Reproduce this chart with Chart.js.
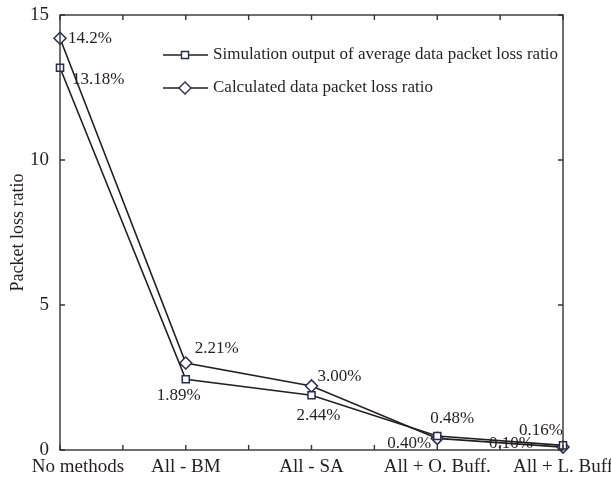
<!DOCTYPE html>
<html>
<head>
<meta charset="utf-8">
<script src="https://cdn.jsdelivr.net/npm/chart.js@4.4.1/dist/chart.umd.min.js"></script>
<style>
  html, body { margin: 0; padding: 0; background: #fff; }
  canvas { display: block; }
</style>
</head>
<body>
<canvas id="chart" width="611" height="477"></canvas>
<script>
// data
const categories = ["No methods", "All - BM", "All - SA", "All + O. Buff.", "All + L. Buff"];
const simulated = [13.18, 2.44, 1.89, 0.48, 0.16];
const calculated = [14.2, 3.00, 2.21, 0.40, 0.10];
const simulatedLabels = ["13.18%", "1.89%", "2.44%", "0.48%", "0.16%"];
const calculatedLabels = ["14.2%", "2.21%", "3.00%", "0.40%", "0.10%"];
const yTicks = [0, 5, 10, 15];
const legendNames = ["Simulation output of average data packet loss ratio", "Calculated data packet loss ratio"];

// label placement (align, dx, dy) relative to each point
const simLabelPos = [["left", 12, 12], ["center", -7, 16], ["center", 7, 20], ["center", 15, -18], ["right", 0, -15]];
const calcLabelPos = [["left", 8, 0], ["left", 9, -14], ["left", 6, -9], ["right", -6, 5], ["right", -30, -4]];
const xLabelShift = [18, 0, 0, 0, 0];

const INK = "#231f20";
const MARK = "#2b2a4a";
const SERIF = "'Liberation Serif', 'DejaVu Serif', serif";

const decor = {
  id: "decor",
  beforeDatasetsDraw(chart) {
    const ctx = chart.ctx;
    const xs = chart.scales.x, ys = chart.scales.y;
    ctx.save();
    // data labels (under the lines, as in the figure)
    ctx.fillStyle = INK;
    ctx.font = "17px " + SERIF;
    ctx.textBaseline = "middle";
    const put = (vals, texts, pos) => {
      vals.forEach((v, i) => {
        ctx.textAlign = pos[i][0];
        ctx.fillText(texts[i], xs.getPixelForValue(i) + pos[i][1], ys.getPixelForValue(v) + pos[i][2]);
      });
    };
    put(simulated, simulatedLabels, simLabelPos);
    put(calculated, calculatedLabels, calcLabelPos);
    ctx.restore();
  },
  afterDraw(chart) {
    const ctx = chart.ctx;
    const a = chart.chartArea;
    const xs = chart.scales.x, ys = chart.scales.y;
    ctx.save();

    // legend (clipped by the right axis like the original)
    ctx.save();
    ctx.beginPath();
    ctx.rect(a.left, a.top, a.right - a.left, a.bottom - a.top);
    ctx.clip();
    ctx.font = "17px " + SERIF;
    ctx.textAlign = "left";
    ctx.textBaseline = "middle";
    const styles = ["rect", "rectRot"];
    const radii = [5, 6];
    [55, 88].forEach((y, i) => {
      ctx.strokeStyle = INK;
      ctx.lineWidth = 1.4;
      ctx.beginPath();
      ctx.moveTo(163, y); ctx.lineTo(208, y);
      ctx.stroke();
      ctx.fillStyle = "#fff";
      ctx.strokeStyle = MARK;
      ctx.lineWidth = 1.4;
      Chart.helpers.drawPoint(ctx, { pointStyle: styles[i], radius: radii[i], borderWidth: 1.4 }, 185, y);
      ctx.fillStyle = INK;
      ctx.fillText(legendNames[i], 213, y);
    });
    ctx.restore();

    ctx.strokeStyle = "#333";
    ctx.lineWidth = 1.4;
    ctx.strokeRect(a.left, a.top, a.right - a.left, a.bottom - a.top);
    // inward ticks
    ctx.beginPath();
    for (let i = 0; i <= (categories.length - 1) * 2; i++) {
      const x = xs.getPixelForValue(i / 2);
      ctx.moveTo(x, a.bottom); ctx.lineTo(x, a.bottom - 5);
      ctx.moveTo(x, a.top); ctx.lineTo(x, a.top + 5);
    }
    yTicks.forEach(t => {
      const y = ys.getPixelForValue(t);
      ctx.moveTo(a.left, y); ctx.lineTo(a.left + 5, y);
      ctx.moveTo(a.right, y); ctx.lineTo(a.right - 5, y);
    });
    ctx.stroke();

    // category labels
    ctx.fillStyle = INK;
    ctx.font = "19px " + SERIF;
    ctx.textAlign = "center";
    ctx.textBaseline = "alphabetic";
    categories.forEach((c, i) => {
      ctx.fillText(c, xs.getPixelForValue(i) + xLabelShift[i], a.bottom + 22);
    });
    ctx.restore();
  }
};

new Chart(document.getElementById("chart"), {
  type: "line",
  data: {
    labels: categories,
    datasets: [
      {
        label: legendNames[0],
        data: simulated,
        borderColor: INK,
        borderWidth: 1.6,
        pointStyle: "rect",
        pointRadius: 5,
        pointBorderColor: MARK,
        pointBackgroundColor: "#fff",
        pointBorderWidth: 1.5,
        tension: 0,
        clip: false
      },
      {
        label: legendNames[1],
        data: calculated,
        borderColor: INK,
        borderWidth: 1.6,
        pointStyle: "rectRot",
        pointRadius: 6,
        pointBorderColor: MARK,
        pointBackgroundColor: "#fff",
        pointBorderWidth: 1.5,
        tension: 0,
        clip: false
      }
    ]
  },
  options: {
    responsive: false,
    animation: false,
    layout: { padding: { top: 15, right: 48, bottom: 0, left: 0 } },
    plugins: {
      legend: { display: false },
      tooltip: { enabled: false }
    },
    scales: {
      x: {
        grid: { display: false },
        border: { display: false },
        ticks: { display: false },
        afterFit(scale) {
          scale.height = 27;
          scale.paddingLeft = 0;
          scale.paddingRight = 0;
        }
      },
      y: {
        min: 0,
        max: 15,
        afterBuildTicks(scale) {
          scale.ticks = yTicks.map(v => ({ value: v }));
        },
        grid: { display: false },
        border: { display: false },
        ticks: {
          color: INK,
          font: { family: SERIF, size: 19 },
          padding: 3
        },
        title: {
          display: true,
          text: "Packet loss ratio",
          color: INK,
          font: { family: SERIF, size: 18 },
          padding: { top: 7, bottom: 0 }
        },
        afterFit(scale) {
          scale.width = 60;
        }
      }
    }
  },
  plugins: [decor]
});
</script>
</body>
</html>
